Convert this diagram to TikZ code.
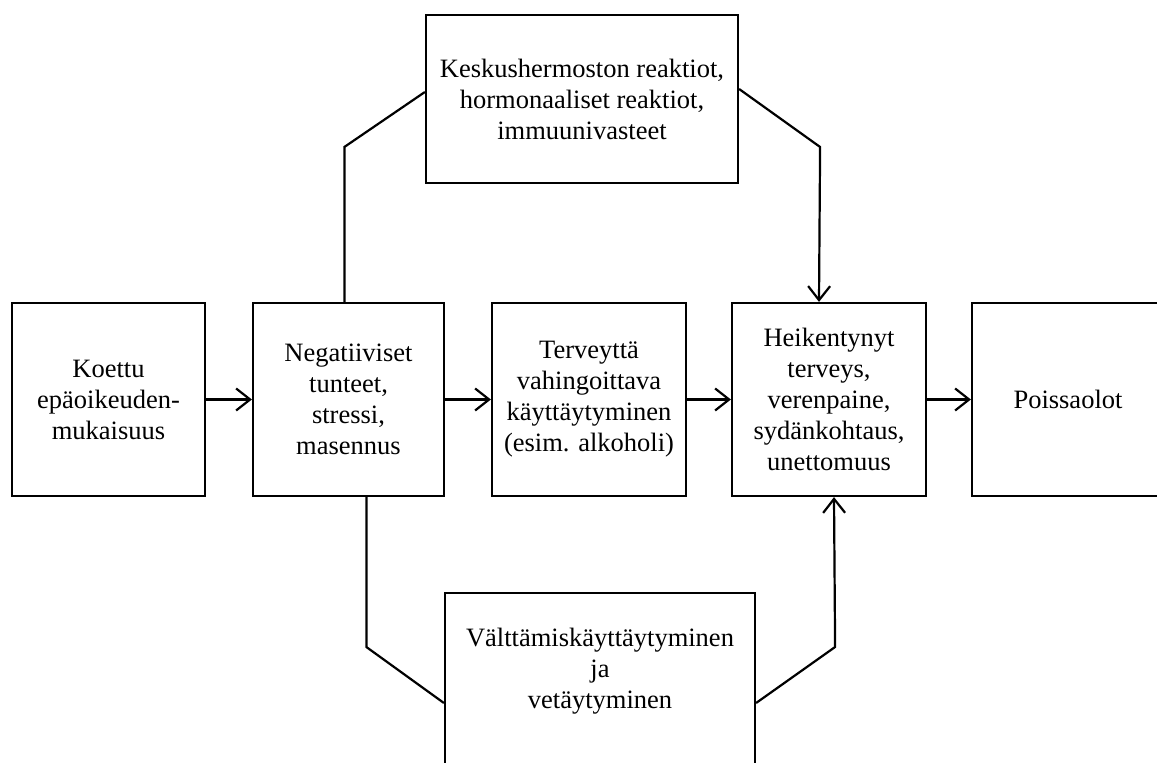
\documentclass[tikz,border=0pt]{standalone}
\usepackage{fontspec}
\setmainfont{Liberation Serif}
\usetikzlibrary{arrows.meta}

\begin{document}
\begin{tikzpicture}[x=1pt,y=1pt,line width=2.2pt,>={Straight Barb[length=14pt,width=22pt]},
	laatikko/.style={draw, line width=2.2pt, align=center, inner sep=0pt,
		minimum width=193pt, minimum height=193pt, font=\fontsize{26.5}{31}\selectfont}]
	\clip (0,0) rectangle (1157,763);
	%Laatikot
	\node [laatikko] (koettu) at (108.5,363.5) {Koettu\\epäoikeuden-\\mukaisuus};
	\node [laatikko, minimum width=191pt] (negat) at (348.5,363.5) {Negatiiviset\\tunteet,\\stressi,\\masennus};
	\node [laatikko, minimum width=194pt] (terv) at (589,363.5) {Terveyttä\\vahingoittava\\käyttäytyminen\\(esim. alkoholi)};
	\node [laatikko, minimum width=194pt] (heik) at (829,363.5) {Heikentynyt\\terveys,\\verenpaine,\\sydänkohtaus,\\unettomuus};
	\node [laatikko, minimum width=192pt] (poissa) at (1068,363.5) {Poissaolot};
	%Ylälaatikko
	\node [laatikko, minimum width=312pt, minimum height=168pt] (keskus) at (582,664) {Keskushermoston reaktiot,\\hormonaaliset reaktiot,\\immuunivasteet};
	%Alalaatikko
	\node [laatikko, minimum width=310pt, minimum height=220pt] (valtt) at (600,60) {};
	\node [align=center, font=\fontsize{26.5}{31}\selectfont] (valtt-teksti) at (600,92) {Välttämiskäyttäytyminen\\ja\\vetäytyminen};
	%Nuolet
	\draw [->] (koettu) -- (negat);
	\draw [->] (negat) -- (terv);
	\draw [->] (terv) -- (heik);
	\draw [->] (heik) -- (poissa);
	%Yläreitti
	\draw ([xshift=-4pt]negat.north) -- ++(0,155) -- ([yshift=7pt]keskus.west);
	\draw [->] ([yshift=10pt]keskus.east) -- ++(81,-58) -- ([xshift=-10pt]heik.north);
	%Alareitti
	\draw ([xshift=18pt]negat.south) -- ++(0,-150) -- (valtt.west);
	\draw [->] (valtt.east) -- ++(79,56) -- ([xshift=5pt]heik.south);
\end{tikzpicture}
\end{document}
